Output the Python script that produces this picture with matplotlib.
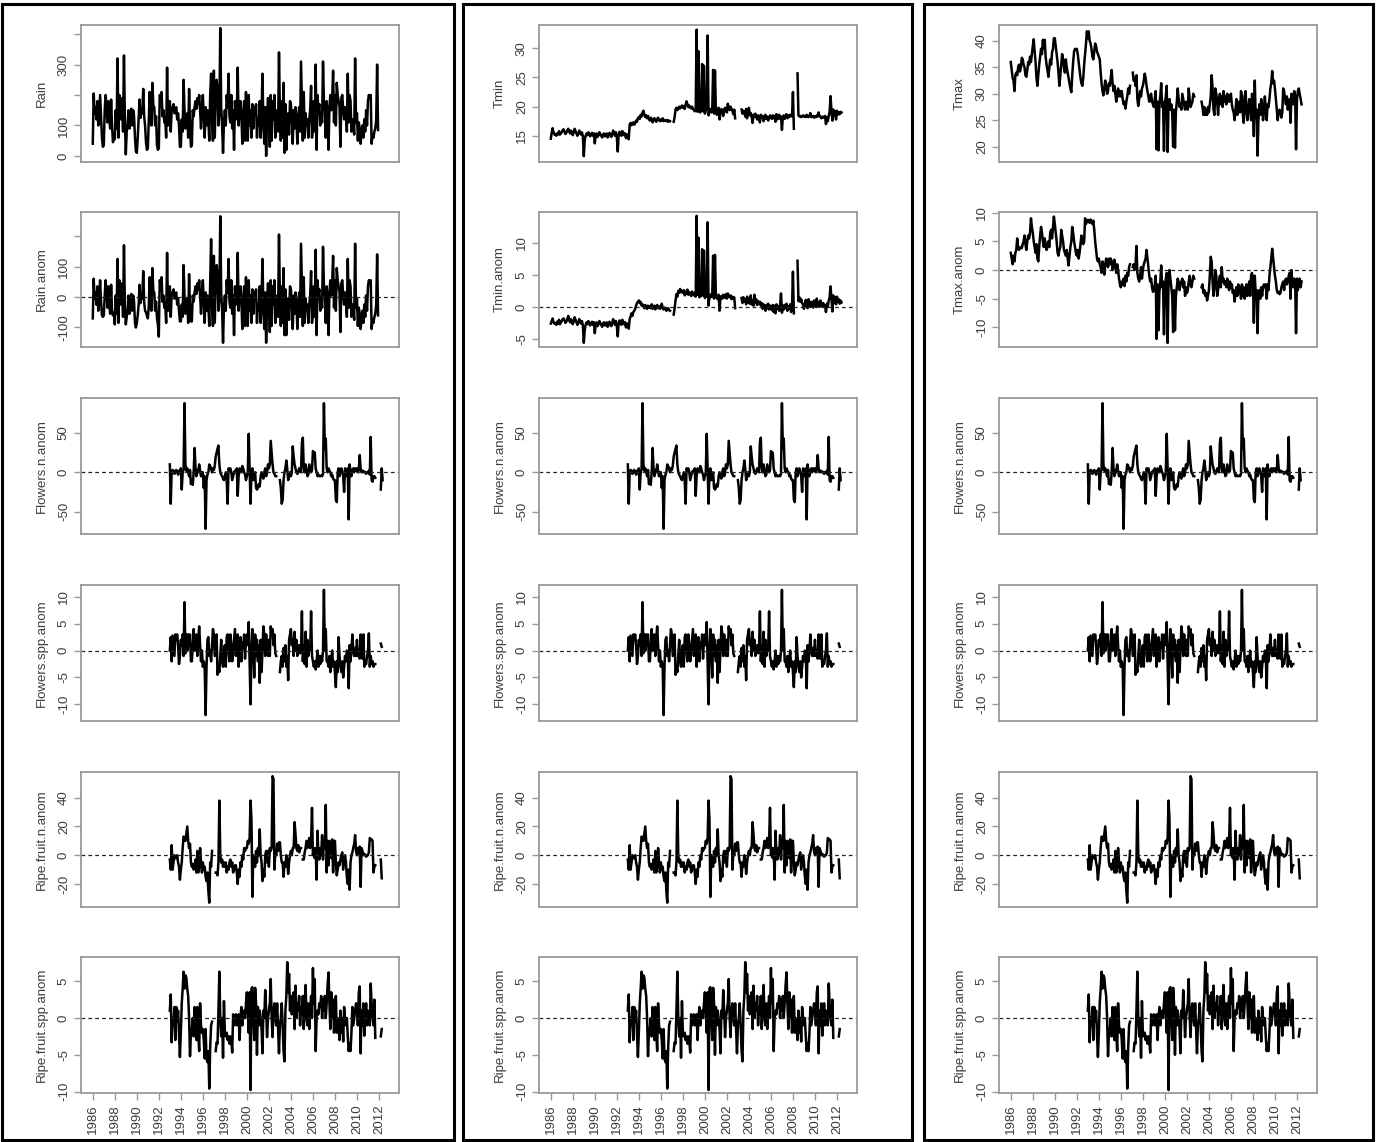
import numpy as np
import matplotlib.pyplot as plt
from matplotlib.patches import Rectangle

plt.rcParams['font.family'] = ['Liberation Sans', 'DejaVu Sans']
plt.rcParams['font.size'] = 9.5

nan = np.nan

# monthly climate series, starting Jan 1986
rain = [
    40, 205, 140, 160, 120, 180, 100, 150, 200, 130, 60, 30,     # 1986
    35, 150, 200, 160, 110, 180, 120, 90, 185, 100, 45, 60,      # 1987
    55, 150, 90, 320, 60, 200, 180, 120, 190, 80, 330, 120,      # 1988
    5, 80, 100, 150, 90, 120, 155, 100, 150, 130, 60, 15,        # 1989
    10, 60, 120, 185, 125, 150, 140, 220, 130, 100, 45, 20,      # 1990
    25, 110, 210, 150, 100, 240, 165, 160, 100, 130, 35, 20,     # 1991
    25, 200, 190, 210, 130, 150, 110, 120, 60, 290, 100, 130,    # 1992
    180, 80, 150, 160, 170, 140, 150, 160, 120, 140, 100, 30,    # 1993
    30, 120, 80, 250, 150, 90, 110, 140, 60, 220, 100, 30,       # 1994
    35, 150, 130, 160, 180, 155, 190, 170, 200, 150, 90, 160,    # 1995
    200, 130, 60, 160, 100, 150, 120, 50, 200, 270, 120, 50,     # 1996
    280, 60, 190, 250, 220, 100, 140, 420, 160, 100, 10, 110,    # 1997
    150, 100, 200, 160, 270, 130, 110, 200, 90, 150, 20, 180,    # 1998
    120, 130, 290, 100, 150, 180, 140, 40, 120, 180, 50, 210,    # 1999
    100, 50, 200, 100, 150, 60, 170, 90, 160, 140, 170, 60,      # 2000
    120, 100, 180, 60, 140, 270, 100, 40, 160, 0, 130, 190,      # 2001
    150, 30, 200, 50, 180, 120, 200, 60, 100, 150, 80, 340,      # 2002
    150, 50, 180, 60, 240, 10, 170, 20, 120, 140, 70, 180,       # 2003
    170, 120, 40, 150, 90, 160, 130, 40, 110, 160, 80, 310,      # 2004
    180, 50, 210, 60, 140, 100, 120, 60, 120, 150, 230, 60,      # 2005
    100, 180, 80, 300, 20, 200, 150, 170, 100, 140, 110, 310,    # 2006
    180, 150, 60, 180, 120, 20, 160, 200, 150, 190, 280, 110,    # 2007
    200, 100, 240, 200, 180, 160, 30, 190, 200, 150, 120, 160,   # 2008
    150, 80, 270, 110, 200, 180, 80, 120, 100, 70, 320, 110,     # 2009
    140, 50, 110, 90, 40, 80, 100, 60, 120, 80, 150, 100,        # 2010
    180, 200, 190, 200, 40, 70, 60, 80, 90, 120, 300, 85,        # 2011
]

rain_anom = [
    -70, 60, -5, 15, -25, 35, -45, 5, 55, -15, -60, -65,
    -60, 5, 55, 15, -35, 35, -25, -55, 40, -45, -60, -50,
    -90, 5, -55, 125, -85, 55, 35, -25, 45, -65, 170, -25,
    -90, -65, -45, 5, -55, -25, 10, -45, 5, -15, -85, -100,
    -85, -60, -25, 40, -20, 5, -5, 85, -15, -45, -50, -60,
    -70, -35, 65, 5, -45, 95, 20, 15, -45, -15, -70, -90,
    -130, 55, 45, 65, -15, 5, -35, -25, -85, 145, -45, -15,
    35, -65, 5, 15, 25, -5, 5, 15, -25, -5, -45, -80,
    -80, -25, -65, 105, 5, -55, -35, -5, -85, 75, -45, -80,
    -80, 5, -15, 15, 35, 10, 45, 25, 55, 5, -55, 15,
    55, -15, -85, 15, -45, 5, -25, -95, 55, 190, -25, -95,
    135, -85, 45, 105, 75, -45, -5, 265, 15, -45, -150, -35,
    5, -45, 55, 15, 125, -15, -35, 55, -55, 5, -125, 35,
    -25, -15, 145, -45, 5, 35, -5, -105, -25, 35, -95, 65,
    -45, -95, 55, -45, 5, -85, 25, -55, 15, -5, 25, -85,
    -25, -45, 35, -85, -5, 125, -45, -105, 15, -150, -15, 45,
    5, -115, 55, -95, 35, -25, 55, -85, -45, 5, -65, 205,
    5, -95, 35, -85, 95, -125, 25, -125, -25, -5, -75, 35,
    25, -25, -105, 5, -55, 15, -15, -105, -35, 15, -65, 175,
    35, -95, 65, -85, -5, -45, -25, -85, -25, 5, 85, -85,
    -45, 35, -65, 155, -125, 55, 5, 25, -45, -5, -35, 165,
    35, 5, -85, 35, -25, -125, 15, 55, 5, 45, 135, -35,
    55, -45, 95, 55, 35, 15, -115, 45, 55, 5, -25, 15,
    5, -65, 125, -35, 55, 35, -65, -25, -45, -75, 175, -35,
    -5, -95, -35, -55, -105, -65, -45, -85, -25, -65, 5, -45,
    35, 55, 45, 55, -105, -75, -85, -65, -55, -25, 140, -60,
]

tmin = [
    14.5, 15.5, 16.3, 15.6, 15.2, 15.3, 15.0, 15.4, 15.2, 15.8, 15.2, 15.4,
    15.6, 16.0, 16.1, 15.7, 15.3, 15.5, 15.9, 16.2, 15.8, 15.4, 15.9, 15.5,
    15.1, 15.6, 16.2, 15.8, 15.4, 15.0, 15.3, 15.9, 15.5, 15.2, 15.6, 14.9,
    11.5, 14.2, 15.0, 15.4, 15.1, 15.6, 15.3, 14.9, 15.2, 15.5, 15.0, 15.4,
    13.7, 15.2, 15.4, 14.8, 15.1, 15.6, 15.3, 15.0, 14.7, 15.2, 15.4, 14.9,
    15.1, 15.4, 14.7, 15.0, 15.5, 15.2, 14.8, 15.3, 15.9, 15.4, 15.0, 15.6,
    14.8, 12.3, 15.2, 15.7, 15.3, 15.0, 15.8, 15.5, 15.1, 15.4, 14.6, 15.2,
    15.2, 14.4, 16.9, 17.2, 16.8, 17.1, 17.3, 16.9, 17.2, 17.6, 17.4, 18.0,
    18.2, 17.9, 18.6, 18.3, 19.0, 19.3, 18.6, 18.2, 18.5, 18.0, 18.4, 17.9,
    17.6, 18.1, 17.8, 17.3, 17.9, 18.0, 17.6, 17.4, 17.9, 18.1, 17.7, 17.5,
    17.8, 17.6, 18.0, 17.5, 17.7, 17.6, 17.5, 17.7, 17.4, 17.6, 17.5, nan,
    nan, nan, 17.4, 18.2, 19.5, 19.8, 19.4, 19.6, 20.0, 19.7, 19.9, 20.2,
    19.8, 20.1, 19.6, 20.3, 20.9, 20.4, 19.9, 20.2, 19.8, 19.7, 20.0, 19.6,
    19.4, 19.2, 19.5, 33.2, 19.1, 29.5, 19.3, 19.0, 19.4, 27.3, 19.2, 27.0,
    18.8, 19.4, 19.6, 32.2, 18.5, 19.3, 19.6, 19.0, 19.4, 26.3, 18.8, 26.2,
    19.2, 18.6, 19.5, 19.8, 17.8, 19.0, 19.6, 19.3, 18.4, 19.5, 19.8, 19.2,
    19.0, 20.5, 19.8, 19.4, 20.0, 19.6, 19.3, 18.7, 19.5, 18.0, nan, nan,
    nan, nan, nan, nan, 19.5, 18.8, 19.3, 19.0, 18.3, 19.6, 18.0, 19.4,
    19.8, 18.5, 18.9, 18.3, 17.2, 18.6, 18.2, 18.8, 18.4, 17.8, 18.5, 18.0,
    17.3, 18.6, 18.2, 18.4, 17.5, 18.1, 18.6, 17.9, 18.3, 17.6, 18.0, 18.5,
    18.2, 17.9, 18.5, 18.0, 18.4, 17.4, 18.7, 17.8, 18.1, 18.6, 17.9, 18.3,
    16.0, 18.2, 18.5, 17.9, 18.4, 18.7, 18.0, 18.5, 18.2, 18.6, 18.4, 18.3,
    22.5, 16.2, nan, nan, nan, 25.7, 18.5, 18.3, 18.4, 18.2, 18.3, 18.5,
    18.3, 18.4, 18.2, 18.6, 18.3, 18.2, 18.4, 18.9, 18.2, 18.3, 18.4, 18.1,
    18.3, 18.2, 18.5, 18.3, 19.0, 18.4, 18.2, 18.0, 18.3, 18.1, 18.2, 18.4,
    17.0, 18.2, 17.5, 18.4, 19.0, 21.8, 19.3, 17.6, 19.5, 18.4, 19.2, 17.8,
    19.3, 18.6, 19.0, 18.7, 19.1, 19.0,
]

tmin_anom = [
    -2.6, -2.2, -1.8, -2.4, -2.6, -2.5, -2.8, -2.3, -2.6, -2.0, -2.7, -2.4,
    -2.2, -1.9, -1.8, -2.1, -2.5, -2.3, -1.9, -1.4, -2.0, -2.4, -1.9, -2.3,
    -2.7, -2.2, -1.6, -2.0, -2.4, -2.8, -2.5, -1.9, -2.3, -2.6, -2.2, -2.9,
    -5.6, -3.6, -2.8, -2.4, -2.7, -2.2, -2.5, -2.9, -2.6, -2.3, -2.8, -2.4,
    -4.1, -2.6, -2.4, -3.0, -2.7, -2.2, -2.5, -2.8, -3.1, -2.6, -2.4, -2.9,
    -2.7, -2.4, -3.1, -2.8, -2.3, -2.6, -3.0, -2.5, -1.9, -2.4, -2.8, -2.2,
    -3.0, -4.6, -2.6, -2.1, -2.5, -2.8, -2.0, -2.3, -2.7, -2.4, -3.2, -2.6,
    -2.6, -3.4, -1.9, -1.5, -1.0, -1.4, -0.8, -0.6, -0.3, 0.2, 0.6, 0.8,
    1.0, 0.6, 0.8, 0.2, 0.4, 0.1, -0.2, 0.3, 0.0, -0.3, 0.2, -0.1,
    0.1, -0.2, 0.4, -0.3, -0.1, 0.2, -0.4, 0.0, 0.3, -0.2, 0.1, -0.3,
    0.0, 0.5, -0.2, -0.4, -0.1, -0.3, -0.6, -0.4, -0.2, -0.5, -0.6, nan,
    nan, nan, -1.2, -0.2, 1.0, 2.0, 1.6, 2.5, 2.2, 2.8, 2.3, 2.5,
    2.2, 2.6, 1.8, 2.4, 2.0, 2.7, 1.9, 2.3, 2.1, 1.7, 2.4, 1.9,
    1.8, 2.2, 1.6, 14.2, 1.9, 10.8, 1.5, 2.0, 1.7, 9.0, 1.8, 8.8,
    1.4, 2.1, 1.6, 13.2, 0.2, 1.8, 1.5, 2.0, 1.6, 8.0, 1.3, 8.1,
    1.8, 1.4, 1.2, 1.9, -0.6, 1.5, 1.7, 1.3, 1.9, 1.6, 1.4, 2.0,
    1.3, 2.1, 1.7, 1.5, 1.8, 1.2, 1.6, 1.3, 1.5, -0.2, nan, nan,
    nan, nan, nan, nan, 1.4, 0.6, 1.5, 0.8, 1.2, 0.4, 1.6, 0.7,
    1.3, 0.5, 1.8, 0.4, 1.0, 0.2, 1.9, 0.6, 1.2, 0.3, 0.9, 0.5,
    0.8, 0.2, 0.6, -0.3, 0.4, 0.1, -0.6, 0.3, -0.2, 0.5, -0.4, 0.2,
    0.0, -0.5, 0.3, -0.8, 0.2, -1.0, 0.4, -0.3, 0.1, -0.6, 0.3, 2.1,
    -0.9, 0.2, -0.4, 0.3, -0.2, 0.5, -0.6, 0.1, -0.3, 0.4, -0.8, 0.0,
    5.5, -1.0, nan, nan, nan, 7.2, 0.9, 1.5, 0.8, 1.2, 0.6, 0.3,
    -0.3, 0.4, 1.1, 0.2, -0.2, 1.2, 0.5, 0.0, 0.8, 0.3, -0.1, 1.0,
    0.5, 0.1, 1.3, 0.2, 0.7, 0.0, 1.0, 0.3, 0.1, 0.6, 0.0, 0.2,
    -0.8, 0.5, 0.0, 1.0, 1.5, 3.2, 1.2, -0.7, 1.8, 0.6, 1.5, 0.4,
    1.6, 0.8, 1.2, 0.5, 1.0, 0.7,
]

tmax = [
    36.0, 34.5, 33.0, 32.5, 30.5, 33.5, 34.0, 33.5, 35.0, 35.5, 34.2, 35.0,
    36.8, 36.5, 35.5, 35.0, 33.5, 33.2, 34.5, 36.0, 35.5, 37.0, 36.0, 37.5,
    39.0, 40.3, 38.0, 36.0, 33.0, 31.5, 33.5, 35.5, 37.0, 38.5, 37.5, 40.2,
    38.5, 40.2, 37.0, 35.5, 34.5, 33.2, 34.8, 36.5, 35.5, 37.8, 38.5, 40.5,
    40.5, 39.0, 37.5, 36.0, 34.0, 31.5, 33.5, 35.5, 37.5, 36.5, 35.0, 34.0,
    36.5, 35.0, 34.0, 33.0, 32.0, 31.0, 30.3, 33.5, 36.0, 38.0, 38.5, 38.3,
    38.5, 37.5, 36.0, 34.5, 33.0, 32.0, 31.5, 33.0, 35.5, 37.5, 39.5, 41.8,
    40.5, 41.8, 40.0, 39.5, 38.5, 37.0, 36.5, 38.0, 39.5, 39.0, 38.0, 37.5,
    37.0, 36.5, 34.0, 32.0, 30.5, 29.7, 31.0, 32.5, 31.5, 30.0, 30.5, 32.0,
    31.5, 33.0, 34.5, 32.0, 30.5, 31.5, 30.0, 28.5, 30.0, 31.0, 29.5, 30.5,
    29.5, 30.5, 29.0, 28.0, 28.5, 27.2, 28.5, 29.5, 31.0, 30.0, 31.5, nan,
    nan, 34.0, 32.5, 33.0, 31.5, 33.5, 29.0, 27.7, 29.0, 30.5, 29.5, 31.0,
    31.5, 32.5, 33.8, 33.0, 31.5, 30.5, 29.5, 28.5, 29.5, 30.0, 28.5, 28.0,
    27.5, 29.0, 30.5, 19.5, 28.5, 19.3, 28.0, 29.5, 32.0, 27.5, 28.5, 19.2,
    28.0, 29.5, 31.5, 19.0, 28.5, 29.0, 27.0, 28.0, 26.5, 20.0, 27.0, 19.8,
    26.5, 28.5, 31.0, 29.0, 27.5, 28.0, 27.0, 30.0, 29.0, 28.0, 27.0, 28.5,
    28.0, 27.0, 31.0, 29.0, 27.5, 28.0, 28.5, 30.0, 29.5, nan, nan, nan,
    nan, nan, nan, nan, 28.5, 27.5, 26.0, 27.5, 26.0, 27.0, 26.0, 27.5,
    26.5, 28.0, 29.5, 33.5, 31.0, 27.0, 26.0, 31.0, 30.0, 28.5, 26.0, 29.0,
    30.0, 28.0, 29.5, 27.5, 30.5, 28.5, 29.5, 28.0, 30.0, 29.0, 28.5, 29.5,
    30.0, 28.0, 27.0, 26.5, 25.0, 27.0, 29.0, 26.0, 27.5, 28.5, 26.5, 30.5,
    29.5, 26.0, 24.5, 29.5, 30.5, 26.5, 25.0, 27.5, 29.0, 27.0, 25.0, 30.0,
    28.0, 22.0, 32.5, 25.5, 27.0, 18.3, 25.0, 28.0, 26.0, 29.0, 28.0, 25.0,
    26.5, 29.5, 27.0, 25.0, 28.0, 27.5, 29.0, 31.0, 32.0, 34.3, 32.0, 32.5,
    31.0, 29.0, 27.0, 25.0, 26.5, 27.0, 26.5, 25.5, 26.5, 31.0, 30.5, 29.0,
    28.0, 29.5, 27.0, 28.5, 29.0, 24.5, 30.0, 29.0, 28.0, 30.5, 29.5, 19.5,
    29.0, 30.5, 31.0, 30.0, 29.0, 28.0,
]

tmax_anom = [
    3.0, 2.0, 1.0, 2.5, 1.5, 3.0, 3.5, 5.5, 4.0, 3.5, 3.8, 4.0,
    3.8, 4.5, 5.0, 6.0, 4.5, 3.5, 5.0, 6.0, 5.5, 6.5, 9.0, 7.5,
    6.5, 5.0, 4.0, 3.0, 4.5, 2.0, 1.5, 4.0, 6.0, 7.5, 6.5, 5.0,
    4.0, 5.5, 4.5, 3.5, 4.0, 5.0, 4.0, 6.5, 7.0, 5.5, 7.5, 9.3,
    8.0, 6.5, 5.0, 3.0, 2.5, 3.5, 4.0, 7.0, 6.0, 5.0, 3.5, 3.0,
    2.5, 3.5, 2.0, 0.8, 2.5, 4.0, 5.0, 7.5, 6.5, 5.0, 4.0, 3.0,
    2.5, 3.5, 2.0, 3.0, 4.5, 6.0, 5.0, 4.5, 5.0, 9.0, 8.0, 8.7,
    8.5, 8.7, 8.2, 8.8, 8.5, 8.0, 8.6, 7.0, 5.0, 3.5, 2.0, 1.5,
    2.0, 1.0, 0.5, -0.5, 1.5, 0.5, -0.8, 1.0, 2.0, 1.5, 0.5, 2.0,
    1.0, 2.0, 1.5, 0.0, 1.0, 1.8, 0.5, -0.5, 1.0, 0.0, -1.5, -2.5,
    -3.0, -2.0, -2.5, -1.5, -2.8, -1.0, -2.0, -0.5, -1.0, 0.5, 1.0, nan,
    nan, 0.5, 1.0, 0.0, 0.8, 4.2, -0.5, -1.5, -2.0, -1.0, 0.5, -1.5,
    0.0, 1.0, 1.5, 2.0, 3.5, 2.0, 0.5, -1.0, -2.0, -1.5, -3.0, -3.8,
    -3.5, -2.5, -1.0, -12.0, -2.5, -10.5, -4.0, -2.0, 0.8, -3.0, -2.0, -11.2,
    -4.0, -1.5, -0.5, -12.7, -2.0, 0.0, -1.5, -3.0, -4.5, -10.8, -3.5, -10.5,
    -4.5, -3.0, -1.5, -2.0, -3.5, -2.5, -2.0, -1.5, -3.0, -2.0, -4.5, -3.0,
    -4.0, -3.5, -2.0, -1.0, -2.5, -3.0, -2.0, -1.0, -1.5, nan, nan, nan,
    nan, nan, nan, nan, -3.0, -2.5, -4.0, -3.5, -4.5, -4.0, -5.3, -4.5,
    -3.5, -1.0, 2.3, 1.5, -2.0, -4.5, -3.0, 0.0, -1.0, -4.5, -3.5, -2.0,
    -1.0, -3.0, 0.5, -2.0, -1.5, -2.5, -2.0, -3.0, -1.5, -2.5, -3.5, -2.0,
    -3.0, -2.5, -4.0, -3.5, -5.5, -4.0, -3.0, -4.5, -2.5, -4.0, -3.0, -5.0,
    -2.5, -4.5, -3.0, -5.0, -4.0, -2.5, -4.5, -3.0, -2.0, -4.5, -1.0, -0.5,
    -2.0, -9.2, -1.0, -4.0, -3.5, -11.0, -4.0, -3.5, -5.0, -3.0, -4.5, -3.0,
    -2.5, -3.0, -2.5, -5.0, -2.5, -3.5, -1.0, 0.5, 2.0, 3.7, 2.0, 0.5,
    -1.0, -2.0, -3.5, -4.0, -3.8, -4.2, -4.0, -3.0, -2.5, -2.0, -3.5, -2.0,
    -1.5, -2.5, -2.0, -1.0, -0.5, -5.0, 0.0, -2.5, -3.0, -1.5, -2.0, -11.0,
    -1.5, -3.5, -2.0, -1.5, -3.0, -2.0,
]

# phenology anomalies, starting Jan 1993
flowers_n = [
    10, -40, 0, 3, 2, -2, 0, 3, 1, -3, 2, 0,
    5, -22, 0, 3, 88, 10, 2, 5, 0, -5, 3, -15,
    -10, -16, 0, 31, 5, -5, 3, 0, 10, 2, -5, 0,
    0, -20, -5, -72, -10, -3, 0, 10, 8, 5, 0, 5,
    3, 8, 20, 25, 30, 34, 10, 0, -3, -5, -8, -10,
    -5, 0, -10, -40, 5, 3, 5, 0, -10, -5, 0, 2,
    0, 5, -30, -5, 5, 3, 0, 8, 5, 0, -3, -10,
    -5, 0, 49, 5, -40, 0, 5, -10, -5, 0, -20, -22,
    -20, -15, -18, -5, 0, -5, -8, 0, 5, -5, 0, 10,
    5, 10, 40, 25, 10, 0, -2, -5, -5, nan, nan, nan,
    -10, -20, -40, -35, -10, 0, 5, 15, 5, -10, -5, 0,
    -5, 0, 33, 20, 10, 5, 0, -2, 0, 5, 3, 0,
    38, 44, 5, 0, 10, 2, -5, -3, 10, 5, 0, 3,
    27, 24, 25, 5, 0, -5, -3, -5, -5, -4, -5, -2,
    88, 30, 43, 5, 0, 5, 2, 0, -5, -3, -8, -10,
    -10, -35, -38, 0, 5, -5, 3, 5, 0, -5, -25, 5,
    0, -5, 5, -60, 10, 0, -5, 3, 5, 0, 5, 2,
    5, 0, 3, 22, 5, 0, 2, 0, 1, 0, -2, 0,
    0, 2, -3, 45, -10, -12, -5, -5, -7, nan, nan, nan,
    nan, nan, -22, 5, -10,
]

flowers_spp = [
    0, 2.5, -2, 2.8, 1, -1, 3, 2, 3, 1, -2.5, -1,
    2, 1, 3, -1, 9, -0.5, 3, 0, 3, 1, 3, -2,
    -2, 1, 4, 0, 2, 3, -1, 2, 4.5, 1, -2, 0,
    -3, -2, -3, -12, -3, 2, 2.5, -1, 0, -2, 1, 4,
    3, -1, 1, 3, -4.5, -3, -4, -1, 2, -2, -3, 0,
    1, -3, 2.5, 3, 0, -2, 3, 1, -2, 0, 2, 4,
    -1, 2, 3, -3, 1, 2.5, -2, 1.5, 0.5, 3, -1.5, 2,
    3, 1, 5.3, -2, -10, 0, 4, 1, -5, 3, -1, 2,
    -2, 1, -6, 2, -4, 0, 4.5, 3, -1, 3, -0.5, -1,
    2, -1, 4.5, 3, 4, 1, 3, -0.5, -1, nan, nan, nan,
    -4, -2, -1, -3, 0.5, -2, 1, -3, -1, -5.5, 2, 3,
    4, 1, 2, -1, 3.5, 0, 2, -1, 0, 1, -0.5, 0,
    7.3, -2, 1, -2.5, 3.5, -3, 2, -1, 1, 0, 7.3, -1,
    -2, -3, -2, -3.5, -2, 0, -3, -1, -2.5, -1, -2, 0,
    11.3, 0, 4, -2, -2, -3, -1, -4, -2, 0, -3, -2,
    -4, -6.8, -2, -4, 2.5, -1, -3, -4, -2, -5, -3, -1,
    -2, 0, -1, -7, 1, -2, 0, 3, 0, -1, 0.5, -1,
    2, -1, 0, -1.5, 3, -1, -1.5, 3, -3, -2, -2.5, -1,
    0, 3.2, -3, -1, -2.5, -2, -3, -2.5, -2.5, nan, nan, nan,
    nan, nan, 1.3, 0.7,
]

ripe_n = [
    -3, -10, 7, -10, -5, 0, -2, -2, 0, -5, -8, -17,
    -10, -5, 5, 13, 12, 10, 15, 20, 10, 5, 8, -5,
    -8, -6, -10, -8, -3, -12, 3, -12, -8, 5, -5, -12,
    -5, -10, -8, -15, -18, -12, -25, -33, -5, -8, 3, nan,
    nan, nan, -12, -12, -14, -5, 38, 0, -5, -3, -8, -5,
    -8, -5, -12, -8, -10, -5, -3, -8, -5, -12, -10, -7,
    -7, -12, -20, -10, -15, -5, -8, 0, -3, 5, 3, 5,
    5, 10, 8, 12, 38, 25, -29, 0, -5, -8, 3, -5,
    5, 0, 18, 0, -5, -18, -10, -15, 0, 3, -5, 3,
    -8, 5, 3, 5, 55, 53, -10, 2, 0, 8, 3, 9,
    9, 0, -5, -5, -15, -5, -8, 0, -3, -13, -5, 0,
    3, 0, 5, 5, 23, 15, 5, 3, 7, 2, 5, 5,
    nan, -3, -3, 2, 5, 10, 5, 8, 12, 5, 10, 33,
    0, 5, -2, 5, -17, 17, 0, -3, 5, 0, 14, -3,
    10, 5, 35, -12, 10, -7, 10, 8, -2, 11, -12, 10,
    10, -5, -14, -10, -5, -7, -3, 0, 2, -10, -5, 0,
    -5, -15, -20, -10, -24, -5, 0, 2, 5, 8, 14, 3,
    0, 5, 2, 6, -22, 5, 3, 0, 1, 0, -1, 0,
    0, 2, 12, 11, 11, 10, -12, -8, -7, nan, nan, nan,
    nan, nan, -3, -16,
]

ripe_spp = [
    1, 3.2, -3.3, 0, -1, 1.5, -3, 1.5, -0.5, 1, -2, -5.3,
    -2, 2, 4, 6.3, 4, 5.8, 5.5, 4, 3, 0, -5.2, -2,
    -1.5, 0, -2.5, 1.5, -1.5, -3, 1.5, -2, -4.5, 2, -1, -2,
    -1.5, -3, -5.5, -1.5, -5.5, -6, -4.5, -9.6, -4, -1, -0.5, nan,
    nan, nan, -4.5, -3.3, -3.5, 1, 6.3, 0, -2.5, 0, -5.4, 2.3,
    -2, -2.5, -2, -3, -2.5, -3.5, -2.5, -3, -4.7, 0.5, -1, -0.5,
    0.5, -1, -0.5, 0.5, -3, 0, 1.5, -1, 0.5, 1, 0, 2,
    3.5, 1, -2, 3.5, -9.8, 4, 4.2, 0, -3, 4.1, 2, -5,
    1.5, -1, 1, 0, -1.5, -4.8, 1, 0, 3.8, 1, -2.6, 0,
    1, 2, 5.3, 0, -2.6, 1, 2, 0, -1, 2, -1.5, -4.8,
    -1, 0, 2, -1, -4.5, -5.9, 1, 3, 7.6, 3.5, 6, 1,
    3, 0.5, 2, 3.5, -1.5, 4.4, 0, 2, 1, 3, -1, 1.5,
    0.5, 3, -1.5, 2, 4.5, 0, -1, 2, -1.5, 1, 3, 0,
    6.8, 2, 5.3, -4.5, 0, 1, 0.5, 2, 1.5, 3, 0, 2.5,
    1, 3, 0, 2, 4.5, 6.2, 2, -1.5, 3.5, 0, 2.5, -2,
    1, 3, -2, 0, -1, -3, 1, -2, 0, -3.2, 1.5, 0,
    -1, 0, -2.5, -4.5, -3.5, -4.5, -2, 1.5, -1, 0, 1, 2,
    1.5, -1, 3.5, 4.3, -4.8, 1, -1, 2, -2.4, 0, 2, -1,
    1, 0, -1, 4.7, 2, 0, -1, 2.5, -2.7, nan, nan, nan,
    nan, nan, -2.5, -1.5,
]

series = {
    'Rain': (rain, 1986),
    'Rain.anom': (rain_anom, 1986),
    'Tmin': (tmin, 1986),
    'Tmin.anom': (tmin_anom, 1986),
    'Tmax': (tmax, 1986),
    'Tmax.anom': (tmax_anom, 1986),
    'Flowers.n.anom': (flowers_n, 1993),
    'Flowers.spp.anom': (flowers_spp, 1993),
    'Ripe.fruit.n.anom': (ripe_n, 1993),
    'Ripe.fruit.spp.anom': (ripe_spp, 1993),
}

ylims = {
    'Rain': (-20, 430), 'Rain.anom': (-164, 279),
    'Tmin': (10.5, 34.0), 'Tmin.anom': (-6.25, 14.8),
    'Tmax': (17.1, 43.0), 'Tmax.anom': (-13.4, 10.1),
    'Flowers.n.anom': (-78.6, 94.6), 'Flowers.spp.anom': (-13.1, 12.2),
    'Ripe.fruit.n.anom': (-36, 57.9), 'Ripe.fruit.spp.anom': (-10.2, 8.3),
}

yticks = {
    'Rain': ([0, 100, 200, 300, 400], ['0', '100', '', '300', '']),
    'Rain.anom': ([-100, 0, 100, 200], ['-100', '0', '100', '']),
    'Tmin': ([15, 20, 25, 30], ['15', '20', '25', '30']),
    'Tmin.anom': ([-5, 0, 5, 10], ['-5', '0', '5', '10']),
    'Tmax': ([20, 25, 30, 35, 40], ['20', '25', '30', '35', '40']),
    'Tmax.anom': ([-10, -5, 0, 5, 10], ['-10', '-5', '0', '5', '10']),
    'Flowers.n.anom': ([-50, 0, 50], ['-50', '0', '50']),
    'Flowers.spp.anom': ([-10, -5, 0, 5, 10], ['-10', '-5', '0', '5', '10']),
    'Ripe.fruit.n.anom': ([-20, 0, 20, 40], ['-20', '0', '20', '40']),
    'Ripe.fruit.spp.anom': ([-10, -5, 0, 5], ['-10', '-5', '0', '5']),
}

phen = ['Flowers.n.anom', 'Flowers.spp.anom', 'Ripe.fruit.n.anom', 'Ripe.fruit.spp.anom']
columns = [['Rain', 'Rain.anom'] + phen,
           ['Tmin', 'Tmin.anom'] + phen,
           ['Tmax', 'Tmax.anom'] + phen]
years = list(range(1986, 2013, 2))

# layout in pixels of the reference
W, H = 1377, 1142
col_x = [(81, 399), (539, 857), (999, 1317)]
row_y = [(25, 162), (212, 347), (398, 534), (585, 721), (772, 907), (957, 1093)]
frames = [(2, 454), (463, 912), (924, 1373)]

fig = plt.figure(figsize=(W / 100, H / 100), dpi=100)
fig.patch.set_facecolor('white')

box_col = '#999999'
txt_col = '#3c3c3c'

for c, names in enumerate(columns):
    x0, x1 = col_x[c]
    fx0, fx1 = frames[c]
    fig.patches.append(Rectangle((fx0 / W, 1 - 1140 / H), (fx1 - fx0) / W, (1140 - 4) / H,
                                 transform=fig.transFigure, fill=False,
                                 ec='black', lw=2.2))
    for r, name in enumerate(names):
        y0, y1 = row_y[r]
        ax = fig.add_axes([x0 / W, 1 - y1 / H, (x1 - x0) / W, (y1 - y0) / H])
        vals, start = series[name]
        t = start + np.arange(len(vals)) / 12.0
        ax.plot(t, vals, color='black', lw=1.8)
        if name.endswith('anom'):
            ax.axhline(0, color='#222222', lw=0.9, ls=(0, (3, 2.5)))
        ax.set_xlim(1984.93, 2013.82)
        ax.set_ylim(*ylims[name])
        tk, lb = yticks[name]
        ax.set_yticks(tk)
        ax.set_yticklabels(lb, rotation=90, va='center', color=txt_col)
        ax.tick_params(axis='y', length=5, width=1.0, color=box_col, pad=3)
        if r == len(names) - 1:
            ax.set_xticks(years)
            ax.set_xticklabels([str(y) for y in years], rotation=90, color=txt_col)
            ax.tick_params(axis='x', length=5, width=1.0, color=box_col, pad=3)
        else:
            ax.tick_params(axis='x', bottom=False, labelbottom=False)
        for sp in ax.spines.values():
            sp.set_color(box_col)
            sp.set_linewidth(1.3)
        ax.set_ylabel(name, color=txt_col)
        ax.yaxis.set_label_coords(-0.105, 0.5)

fig.savefig('out.png', dpi=100)
